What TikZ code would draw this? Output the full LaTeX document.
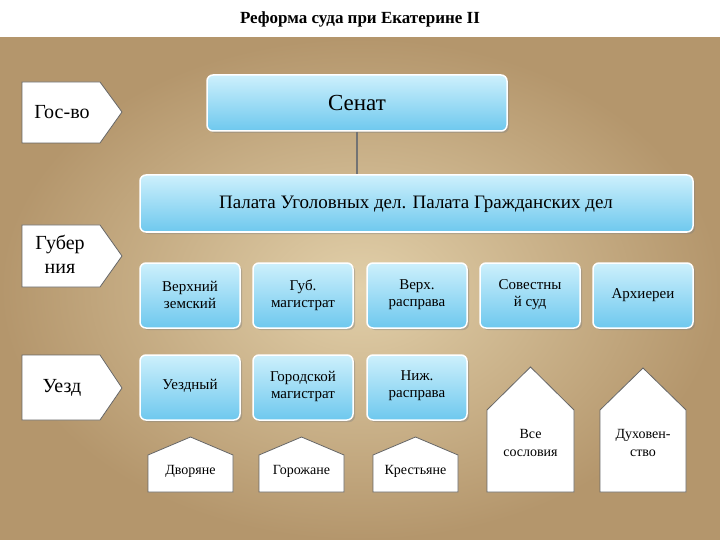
\documentclass[tikz,border=0pt]{standalone}
\usepackage{fontspec}
\setmainfont{Liberation Serif}
\usetikzlibrary{shadows}
\definecolor{parchin}{RGB}{226,208,170}
\definecolor{parchout}{RGB}{180,150,108}
\definecolor{bluetop}{RGB}{205,240,252}
\definecolor{bluebot}{RGB}{110,200,238}
\begin{document}
\begin{tikzpicture}[x=1pt,y=-1pt,
  bluebox/.style={draw=white,line width=1.5pt,rounded corners=6pt,top color=bluetop,bottom color=bluebot,drop shadow={opacity=0.4,shadow xshift=2pt,shadow yshift=-2pt}},
  whitebox/.style={draw=black!60,line width=0.8pt,fill=white},
  boxtext/.style={align=center,font=\fontsize{15}{17}\selectfont},
  sidetext/.style={align=center,font=\fontsize{20}{21}\selectfont}]
\useasboundingbox (0,0) rectangle (720,540);
\fill[white] (0,0) rectangle (720,40);
\shade[inner color=parchin,outer color=parchout] (0,38) rectangle (720,540);
\node[font=\bfseries\fontsize{17}{19}\selectfont] (title) at (360,19) {Реформа суда при Екатерине II};
% side arrows
\draw[whitebox] (22,82)--(100,82)--(122,112)--(100,143)--(22,143)--cycle;
\node[sidetext] (gos) at (62,112) {Гос-во};
\draw[whitebox] (22,225)--(100,225)--(122,256)--(100,287)--(22,287)--cycle;
\node[sidetext,font=\fontsize{20}{24}\selectfont] (gub) at (60,254) {Губер\\ния};
\draw[whitebox] (22,355)--(100,355)--(122,388)--(100,420)--(22,420)--cycle;
\node[sidetext] (uezd) at (62,388) {Уезд};
% main boxes
\path[bluebox] (207,75) rectangle (507,131);
\node[font=\fontsize{23}{25}\selectfont] (senat) at (357,103) {Сенат};
\path[bluebox] (140,175) rectangle (693,232);
\node[font=\fontsize{19}{21}\selectfont] (palata) at (416,204) {Палата Уголовных дел. Палата Гражданских дел};
\draw[line width=2.5pt,black!55] (357,132) -- (357,174);
% row 1
\foreach \x/\t/\n in {140/{Верхний\\земский}/a,253/{Губ.\\магистрат}/b,367/{Верх.\\расправа}/c,480/{Совестны\\й суд}/d,593/{Архиереи}/e}{
  \path[bluebox] (\x,263) rectangle (\x+100,328);
  \node[boxtext] (r1\n) at (\x+50,295) {\t};
}
\foreach \x/\t/\n in {140/{Уездный}/a,253/{Городской\\магистрат}/b,367/{Ниж.\\расправа}/c}{
  \path[bluebox] (\x,355) rectangle (\x+100,420);
  \node[boxtext] (r2\n) at (\x+50,386) {\t};
}
% houses small
\foreach \x/\t/\n in {148/Дворяне/a,259/Горожане/b,373/Крестьяне/c}{
  \draw[whitebox] (\x,455)--(\x+42.5,437)--(\x+85,455)--(\x+85,492)--(\x,492)--cycle;
  \node[boxtext,font=\fontsize{14}{16}\selectfont] (h\n) at (\x+42.5,471) {\t};
}
\draw[whitebox] (487,410)--(530.5,367)--(574,410)--(574,492)--(487,492)--cycle;
\node[boxtext,font=\fontsize{14}{18}\selectfont] (hd) at (530.5,443) {Все\\сословия};
\draw[whitebox] (600,410)--(643,368)--(686,410)--(686,492)--(600,492)--cycle;
\node[boxtext,font=\fontsize{14}{18}\selectfont] (he) at (643,443) {Духовен-\\ство};
\end{tikzpicture}
\end{document}
